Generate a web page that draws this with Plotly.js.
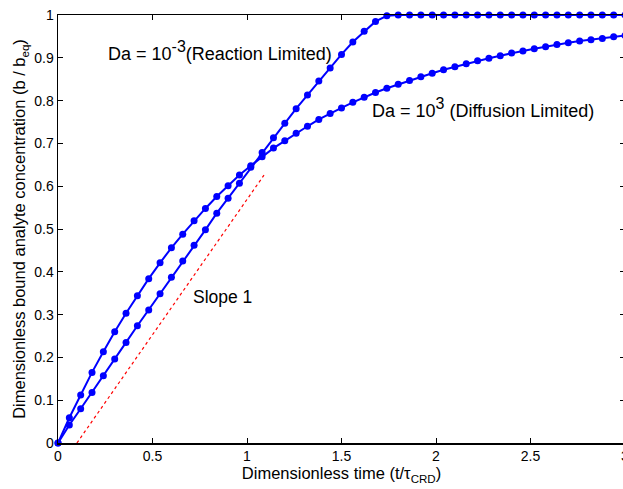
<!DOCTYPE html>
<html>
<head>
<meta charset="utf-8">
<script src="https://cdn.plot.ly/plotly-3.0.1.min.js"></script>
<style>
html, body { margin: 0; padding: 0; overflow: hidden; background: #fff; }
#chart { width: 627px; height: 489px; }
</style>
</head>
<body>
<div id="chart"></div>
<script>
// Dimensionless time samples (t / tau_CRD)
const timeValues = [0, 0.06, 0.12, 0.18, 0.24, 0.30, 0.36, 0.42, 0.48, 0.54,
  0.60, 0.66, 0.72, 0.78, 0.84, 0.90, 0.96, 1.02, 1.08, 1.14,
  1.20, 1.26, 1.32, 1.38, 1.44, 1.50, 1.56, 1.62, 1.68, 1.74,
  1.80, 1.86, 1.92, 1.98, 2.04, 2.10, 2.16, 2.22, 2.28, 2.34,
  2.40, 2.46, 2.52, 2.58, 2.64, 2.70, 2.76, 2.82, 2.88, 2.94, 3.00];

// Da = 10^-3 (Reaction Limited)
const reactionLimited = [0, 0.042, 0.080, 0.118, 0.157, 0.196, 0.235, 0.274, 0.311, 0.349,
  0.387, 0.425, 0.462, 0.498, 0.537, 0.572, 0.607, 0.644, 0.679, 0.713,
  0.747, 0.781, 0.813, 0.846, 0.876, 0.908, 0.937, 0.962, 0.985, 0.998,
  1, 1, 1, 1, 1, 1, 1, 1, 1, 1,
  1, 1, 1, 1, 1, 1, 1, 1, 1, 1, 1];

// Da = 10^3 (Diffusion Limited)
const diffusionLimited = [0, 0.059, 0.112, 0.165, 0.213, 0.260, 0.303, 0.344, 0.384, 0.421,
  0.456, 0.488, 0.519, 0.548, 0.576, 0.601, 0.626, 0.648, 0.669, 0.689,
  0.706, 0.724, 0.740, 0.756, 0.770, 0.783, 0.796, 0.808, 0.819, 0.829,
  0.838, 0.847, 0.856, 0.864, 0.872, 0.879, 0.886, 0.893, 0.899, 0.905,
  0.911, 0.916, 0.921, 0.926, 0.931, 0.935, 0.939, 0.942, 0.945, 0.949, 0.952];

// "Slope 1" reference line
const slopeX = [0.1, 1.09];
const slopeY = [0, 0.626];

const xTicks = [0, 0.5, 1, 1.5, 2, 2.5, 3];
const yTicks = [0, 0.1, 0.2, 0.3, 0.4, 0.5, 0.6, 0.7, 0.8, 0.9, 1];

const FONT = '"Liberation Sans", Arial, Helvetica, sans-serif';
const BLUE = '#0000ff';

const traces = [
  {
    x: slopeX, y: slopeY, mode: 'lines', type: 'scatter',
    line: { color: '#ff0000', width: 1.2, dash: '3px,3px' },
    hoverinfo: 'skip'
  },
  {
    x: timeValues, y: reactionLimited, mode: 'lines+markers', type: 'scatter',
    line: { color: BLUE, width: 2 },
    marker: { color: BLUE, size: 7 },
    cliponaxis: false
  },
  {
    x: timeValues, y: diffusionLimited, mode: 'lines+markers', type: 'scatter',
    line: { color: BLUE, width: 2 },
    marker: { color: BLUE, size: 7 },
    cliponaxis: false
  }
];

const layout = {
  width: 627, height: 489,
  margin: { l: 58, r: 2, t: 15, b: 46 },
  showlegend: false,
  paper_bgcolor: '#fff', plot_bgcolor: '#fff',
  font: { family: FONT, size: 14, color: '#000' },
  xaxis: {
    range: [0, 3], tickvals: xTicks, ticktext: xTicks.map(String),
    ticks: 'inside', ticklen: 5, tickwidth: 1, tickcolor: '#000',
    showline: true, linecolor: '#000', linewidth: 1.5, mirror: 'ticks',
    showgrid: false, zeroline: false, ticklabeloverflow: 'allow',
    tickfont: { family: FONT, size: 14 },
    title: { text: 'Dimensionless time (t/τ<sub>CRD</sub>)', font: { family: FONT, size: 16.5 }, standoff: 1 }
  },
  yaxis: {
    range: [0, 1], tickvals: yTicks, ticktext: yTicks.map(String),
    ticks: 'inside', ticklen: 5, tickwidth: 1, tickcolor: '#000',
    showline: true, linecolor: '#000', linewidth: 1.5, mirror: 'ticks',
    showgrid: false, zeroline: false, ticklabeloverflow: 'allow',
    tickfont: { family: FONT, size: 14 },
    title: { text: 'Dimensionless bound analyte concentration (b / b<sub>eq</sub>)', font: { family: FONT, size: 16.5 }, standoff: 4 }
  },
  annotations: [
    { x: 0.254, y: 0.917, xref: 'x', yref: 'y', xanchor: 'left', yanchor: 'middle',
      text: 'Da = 10<sup><span style="font-size:16px">-3</span></sup>(Reaction Limited)', showarrow: false,
      font: { family: FONT, size: 18, color: '#000' } },
    { x: 1.651, y: 0.782, xref: 'x', yref: 'y', xanchor: 'left', yanchor: 'middle',
      text: 'Da = 10<sup><span style="font-size:16px">3</span></sup> (Diffusion Limited)', showarrow: false,
      font: { family: FONT, size: 18, color: '#000' } },
    { x: 0.704, y: 0.340, xref: 'x', yref: 'y', xanchor: 'left', yanchor: 'middle',
      text: 'Slope 1', showarrow: false,
      font: { family: FONT, size: 17.5, color: '#000' } }
  ]
};

Plotly.newPlot('chart', traces, layout, { staticPlot: true, displayModeBar: false });
</script>
</body>
</html>
